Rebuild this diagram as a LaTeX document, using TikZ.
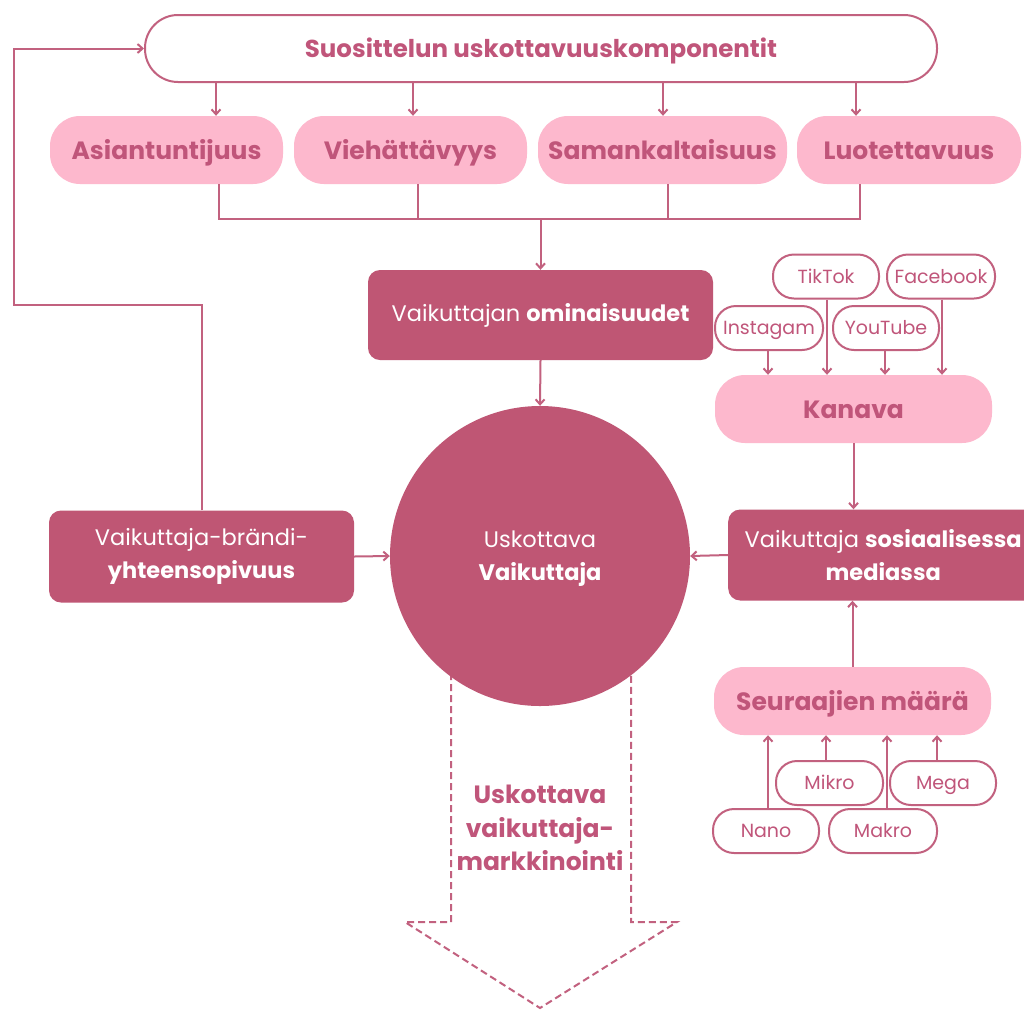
\documentclass[tikz,border=0pt]{standalone}
\usepackage{fontspec}
\setmainfont{Poppins}
\usetikzlibrary{arrows.meta,calc}
\definecolor{rose}{HTML}{BF5674}
\definecolor{pinkl}{HTML}{FDB8CD}
\definecolor{linec}{HTML}{C2617F}
\definecolor{pinktext}{HTML}{C0557A}
\begin{document}
\begin{tikzpicture}[x=1pt,y=-1pt,
 arr/.style={draw=linec, line width=2pt, -{Straight Barb[length=5pt,width=9pt]}},
 ln/.style={draw=linec, line width=2pt},
 pill/.style={fill=pinkl, text=pinktext, font=\fontsize{25}{29}\selectfont\bfseries, minimum height=68pt, rounded corners=30pt, inner sep=0pt, text height=18pt, text depth=0pt},
 outl/.style={draw=linec, line width=2pt, fill=white, text=pinktext, font=\fontsize{19}{22}\selectfont, minimum height=44pt, rounded corners=21pt, inner sep=0pt, text height=13.5pt, text depth=0pt},
 dark/.style={fill=rose, text=white, rounded corners=12pt, font=\fontsize{22.5}{33}\selectfont, align=center, inner sep=0pt},
]
\useasboundingbox (0,0) rectangle (1024,1010);
\fill[white] (0,0) rectangle (1024,1010);

% dashed output arrow (behind circle)
\draw[draw=linec, line width=2pt, dash pattern=on 7pt off 4pt] (451,640) -- (451,922) -- (405,922) -- (540,1008) -- (677,922) -- (631,922) -- (631,640);
\node[text=pinktext, font=\fontsize{25}{33.5}\selectfont\bfseries, align=center] (mkt) at (540,828) {Uskottava\\vaikuttaja-\\markkinointi};

% top
\node[outl, minimum width=792pt, minimum height=67pt, rounded corners=33pt, font=\fontsize{24.5}{28}\selectfont\bfseries, text height=17.5pt] (top) at (541,48.5) {Suosittelun uskottavuuskomponentit};

\node[pill, minimum width=233pt] (asi) at (166.5,150) {Asiantuntijuus};
\node[pill, minimum width=233pt] (vie) at (410.5,150) {Viehättävyys};
\node[pill, minimum width=249pt] (sam) at (662.5,150) {Samankaltaisuus};
\node[pill, minimum width=224pt] (luo) at (909,150) {Luotettavuus};

\coordinate (a1) at (216,0);
\coordinate (a2) at (413,0);
\coordinate (a3) at (663,0);
\coordinate (a4) at (856,0);
\draw[arr] (top.south -| a1) -- (asi.north -| a1);
\draw[arr] (top.south -| a2) -- (vie.north -| a2);
\draw[arr] (top.south -| a3) -- (sam.north -| a3);
\draw[arr] (top.south -| a4) -- (luo.north -| a4);

\coordinate (b1) at (219,219);
\coordinate (b2) at (418,219);
\coordinate (b3) at (668,219);
\coordinate (b4) at (860,219);
\draw[ln] (asi.south -| b1) -- (b1) -- (b4) -- (luo.south -| b4);
\draw[ln] (vie.south -| b2) -- (b2);
\draw[ln] (sam.south -| b3) -- (b3);

\node[dark, minimum width=345pt, minimum height=90pt] (omi) at (540.5,315) {Vaikuttajan \textbf{ominaisuudet}};
\draw[arr] (b1 -| omi) -- (omi.north);

\node[circle, fill=rose, minimum size=300pt, inner sep=0pt] (circ) at (540,556) {};
\node[text=white, font=\fontsize{22.5}{33}\selectfont, align=center] (circt) at (540,559) {Uskottava\\\textbf{Vaikuttaja}};
\draw[arr] (omi.south) -- (circ.north);

% left
\node[dark, minimum width=305pt, minimum height=92pt] (fit) at (201.5,556.5) {Vaikuttaja-brändi-\\\textbf{yhteensopivuus}};
\draw[arr] (fit.east) -- (circ.west);
\coordinate (fb) at (14,305);
\draw[arr] (fit.north) -- (fit.north |- fb) -- (fb) -- (fb |- top.west) -- (top.west);

% channels
\node[outl, minimum width=106pt] (tik) at (826,276.5) {TikTok};
\node[outl, minimum width=108pt] (fac) at (941,276.5) {Facebook};
\node[outl, minimum width=108pt] (ins) at (769,328) {Instagam};
\node[outl, minimum width=106pt] (you) at (886,328) {YouTube};
\node[pill, minimum width=277pt] (kan) at (853.5,409) {Kanava};
\coordinate (k1) at (768,0);
\coordinate (k2) at (827,0);
\coordinate (k3) at (885,0);
\coordinate (k4) at (942,0);
\draw[arr] (ins.south -| k1) -- (kan.north -| k1);
\draw[arr] (tik.south -| k2) -- (kan.north -| k2);
\draw[arr] (you.south -| k3) -- (kan.north -| k3);
\draw[arr] (fac.south -| k4) -- (kan.north -| k4);

% social
\node[dark, minimum width=310pt, minimum height=91pt, anchor=west] (soc) at (728,555) {Vaikuttaja \textbf{sosiaalisessa}\\\textbf{mediassa}};
\draw[arr] (kan.south) -- (kan.south |- soc.north);
\draw[arr] (soc.west) -- (circ.east);

% followers
\node[pill, minimum width=277pt] (seu) at (852.5,701) {Seuraajien määrä};
\draw[arr] (seu.north) -- (seu.north |- soc.south);
\node[outl, minimum width=107pt] (mik) at (829.5,783) {Mikro};
\node[outl, minimum width=106pt] (meg) at (943,783) {Mega};
\node[outl, minimum width=106pt] (nan) at (766,831) {Nano};
\node[outl, minimum width=108pt] (mak) at (883,831) {Makro};
\coordinate (f1) at (768,0);
\coordinate (f2) at (826,0);
\coordinate (f3) at (887,0);
\coordinate (f4) at (937,0);
\draw[arr] (nan.north -| f1) -- (seu.south -| f1);
\draw[arr] (mik.north -| f2) -- (seu.south -| f2);
\draw[arr] (mak.north -| f3) -- (seu.south -| f3);
\draw[arr] (meg.north -| f4) -- (seu.south -| f4);
\end{tikzpicture}
\end{document}
